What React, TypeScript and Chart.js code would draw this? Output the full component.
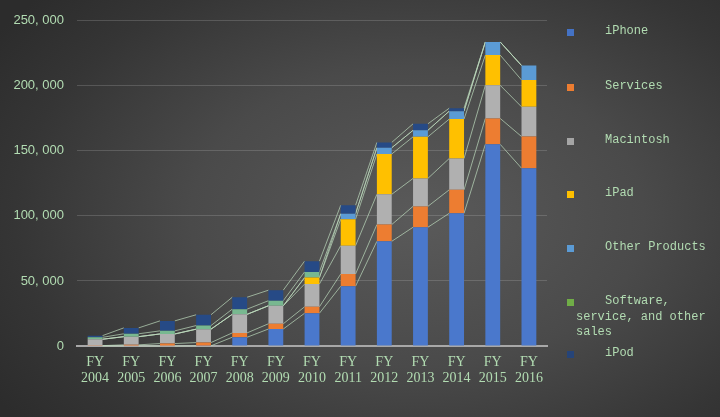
import React, { useEffect, useRef } from "react";
import { Chart, registerables } from "chart.js";

Chart.register(...registerables);

const years = ["2004", "2005", "2006", "2007", "2008", "2009", "2010", "2011", "2012", "2013", "2014", "2015", "2016"];
const categories = years.map((y) => ["FY", y]);

const iPhone = [0, 0, 0, 123, 6742, 13033, 25179, 46000, 80477, 91279, 101991, 155041, 136700];
const services = [278, 899, 1885, 2496, 3340, 4036, 4948, 9373, 12890, 16051, 18063, 19909, 24348];
const macintosh = [4923, 6275, 7375, 10314, 14276, 13859, 17479, 21783, 23221, 21483, 24079, 25471, 22831];
const iPad = [0, 0, 0, 0, 0, 0, 4958, 20358, 31000, 31980, 30283, 23227, 20628];
const otherProducts = [0, 0, 0, 0, 0, 0, 0, 4200, 4800, 5000, 6100, 10067, 11132];
const software = [1453, 2217, 2379, 2768, 3980, 3886, 4387, 0, 0, 0, 0, 0, 0];
const iPod = [1306, 4540, 7676, 8305, 9153, 8091, 8274, 6500, 4120, 5000, 2286, 0, 0];

const seriesLabels = ["iPhone", "Services", "Macintosh", "iPad", "Other Products", "Software, service, and other sales", "iPod"];
const seriesValues = [iPhone, services, macintosh, iPad, otherProducts, software, iPod];
const seriesColors = ["#4472C4", "#ED7D31", "#A5A5A5", "#FFC000", "#5B9BD5", "#70AD47", "#264478"];
const barColors = ["#4a78cc", "#ED7D31", "#b0b0b0", "#FFC000", "#5B9BD5", "#78b890", "#264a86"];
const yTicks = [0, 50000, 100000, 150000, 200000, 250000];

const TEXT = "#b2dcb2";

const seriesLinesPlugin = {
  id: "seriesLines",
  beforeDatasetsDraw(chart: any) {
    const ctx = chart.ctx;
    ctx.save();
    ctx.strokeStyle = "rgba(190,220,190,0.7)";
    ctx.lineWidth = 1;
    chart.data.datasets.forEach((_ds: any, di: number) => {
      const meta = chart.getDatasetMeta(di);
      ctx.beginPath();
      for (let i = 0; i < meta.data.length - 1; i++) {
        const a = meta.data[i].getProps(["x", "y", "width"], true);
        const b = meta.data[i + 1].getProps(["x", "y", "width"], true);
        ctx.moveTo(a.x + a.width / 2, a.y);
        ctx.lineTo(b.x - b.width / 2, b.y);
      }
      ctx.stroke();
    });
    ctx.restore();
  },
};

export default function App() {
  const ref = useRef<HTMLCanvasElement | null>(null);

  useEffect(() => {
    if (!ref.current) return;
    const chart = new Chart(ref.current, {
      type: "bar",
      data: {
        labels: categories,
        datasets: seriesLabels.map((label, i) => ({
          label,
          data: seriesValues[i],
          backgroundColor: barColors[i],
          borderWidth: 0,
          categoryPercentage: 1,
          barPercentage: 0.41,
        })),
      },
      options: {
        responsive: true,
        maintainAspectRatio: false,
        animation: false,
        layout: { padding: { left: 0, right: 173, top: 20, bottom: 0 } },
        plugins: {
          legend: { display: false },
          tooltip: { enabled: false },
        },
        scales: {
          x: {
            stacked: true,
            grid: { display: false },
            border: { display: true, color: "#a8a8a8", width: 2 },
            ticks: {
              color: TEXT,
              font: { family: "'Liberation Serif', serif", size: 14, lineHeight: 1.15 },
              padding: 0,
              maxRotation: 0,
              autoSkip: false,
            },
            afterFit(scale: any) {
              scale.height = 71;
            },
          },
          y: {
            stacked: true,
            min: 0,
            max: 250000,
            afterBuildTicks(scale: any) {
              scale.ticks = yTicks.map((v) => ({ value: v }));
            },
            grid: { color: "rgba(200,200,200,0.22)", lineWidth: 1, drawTicks: false },
            border: { display: false },
            ticks: {
              color: TEXT,
              font: { family: "'Liberation Sans', sans-serif", size: 13 },
              padding: 13,
              callback: (v: any) => Number(v).toLocaleString("en-US").replace(",", ", "),
            },
            afterFit(scale: any) {
              scale.width = 77;
            },
          },
        },
      },
      plugins: [seriesLinesPlugin],
    });
    return () => chart.destroy();
  }, []);

  const legendY = [32, 87, 141, 194, 248, 302, 354];

  return (
    <div
      style={{
        position: "absolute",
        left: 0,
        top: 0,
        width: 720,
        height: 417,
        overflow: "hidden",
        background: "radial-gradient(ellipse 70% 80% at 58% 52%, #5a5a5a 0%, #4a4a4a 45%, #353535 80%, #2c2c2c 100%)",
      }}
    >
      <div style={{ position: "absolute", left: 0, top: 0, width: 720, height: 417 }}>
        <canvas ref={ref} />
      </div>
      {seriesLabels.map((label, i) => (
        <React.Fragment key={label}>
          <div
            style={{
              position: "absolute",
              left: 567,
              top: legendY[i] - 3,
              width: 7,
              height: 7,
              background: seriesColors[i],
            }}
          />
          <div
            style={{
              position: "absolute",
              left: 576,
              top: legendY[i] - 8,
              width: 136,
              textIndent: 29,
              fontFamily: "'Liberation Mono', monospace",
              fontSize: 12,
              lineHeight: "15.5px",
              color: TEXT,
            }}
          >
            {label}
          </div>
        </React.Fragment>
      ))}
    </div>
  );
}
